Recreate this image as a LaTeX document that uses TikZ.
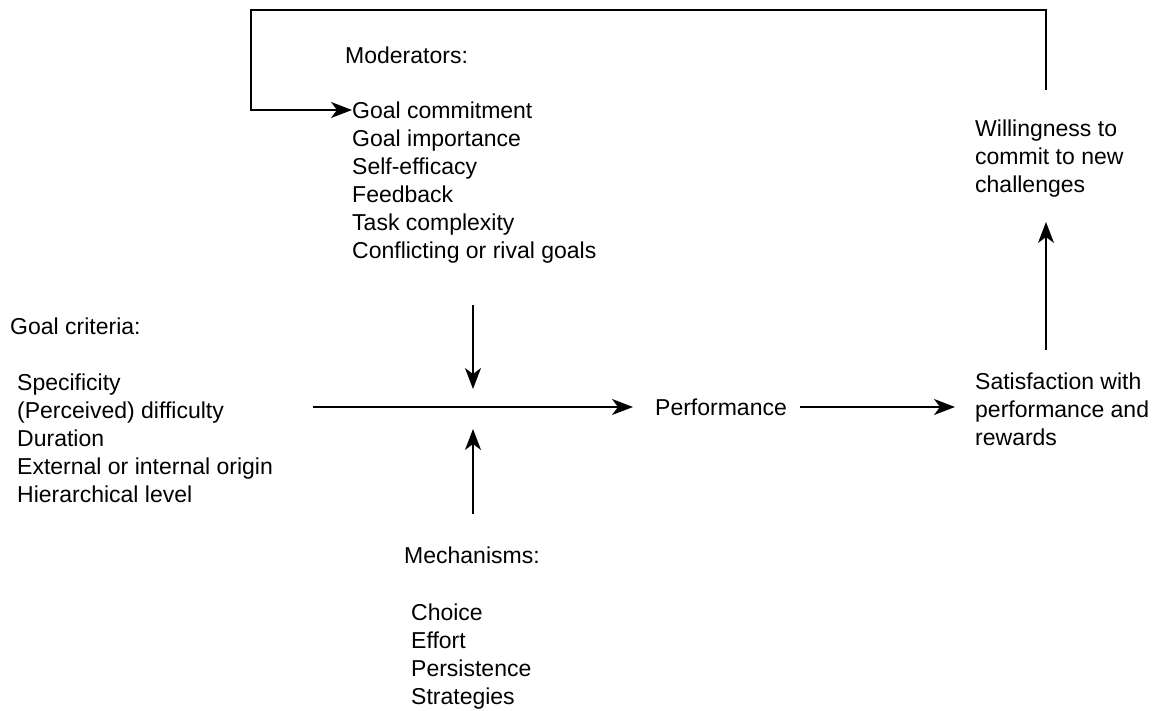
\documentclass[tikz,border=0pt]{standalone}
\usepackage{fontspec}
\setmainfont{Liberation Sans}
\usetikzlibrary{arrows.meta}
\begin{document}
\begin{tikzpicture}[x=1pt,y=-1pt,
  lbl/.style={anchor=west,inner sep=0pt,font=\fontsize{23}{28}\selectfont},
  lst/.style={lbl,align=left,anchor=north west},
  conn/.style={line width=1.6pt,-{Stealth[length=21pt,width=16pt,inset=6pt]}}]
\useasboundingbox (0,0) rectangle (1168,711);

% moderators block
\node[lbl] (modh) at (345,55) {Moderators:};
\node[lbl] (m1) at (352,110) {Goal commitment};
\node[lst] (mods) at (352,129.5) {Goal importance\\Self-efficacy\\Feedback\\Task complexity\\Conflicting or rival goals};

% goal criteria block
\node[lbl] (gch) at (10,326) {Goal criteria:};
\node[lst] (gc) at (17,373.5) {Specificity\\(Perceived) difficulty\\Duration\\External or internal origin\\Hierarchical level};

% mechanisms block
\node[lbl] (mech) at (404,555) {Mechanisms:};
\node[lst] (mechs) at (411,603.5) {Choice\\Effort\\Persistence\\Strategies};

% outcomes
\node[lbl] (perf) at (655,407) {Performance};
\node[lst] (sat) at (975,372.5) {Satisfaction with\\performance and\\rewards};
\node[lst] (will) at (975,119.5) {Willingness to\\commit to new\\challenges};

% end points of the connectors
\coordinate (hs) at (313,407);
\coordinate (he) at (633,407);
\coordinate (ds) at (473,305);
\coordinate (de) at (473,389);
\coordinate (us) at (473,514);
\coordinate (ue) at (473,429);
\coordinate (ps) at (800,407);
\coordinate (pe) at (955,407);
\coordinate (ss) at (1046,350);
\coordinate (se) at (1046,222);
\coordinate (ws) at (1046,90);
\coordinate (lt) at (251,10);

\draw[conn] (hs) -- (he);
\draw[conn] (ds) -- (de);
\draw[conn] (us) -- (ue);
\draw[conn] (ps) -- (pe);
\draw[conn] (ss) -- (se);
\draw[conn] (ws) |- (lt) |- (m1.west);
\end{tikzpicture}
\end{document}
